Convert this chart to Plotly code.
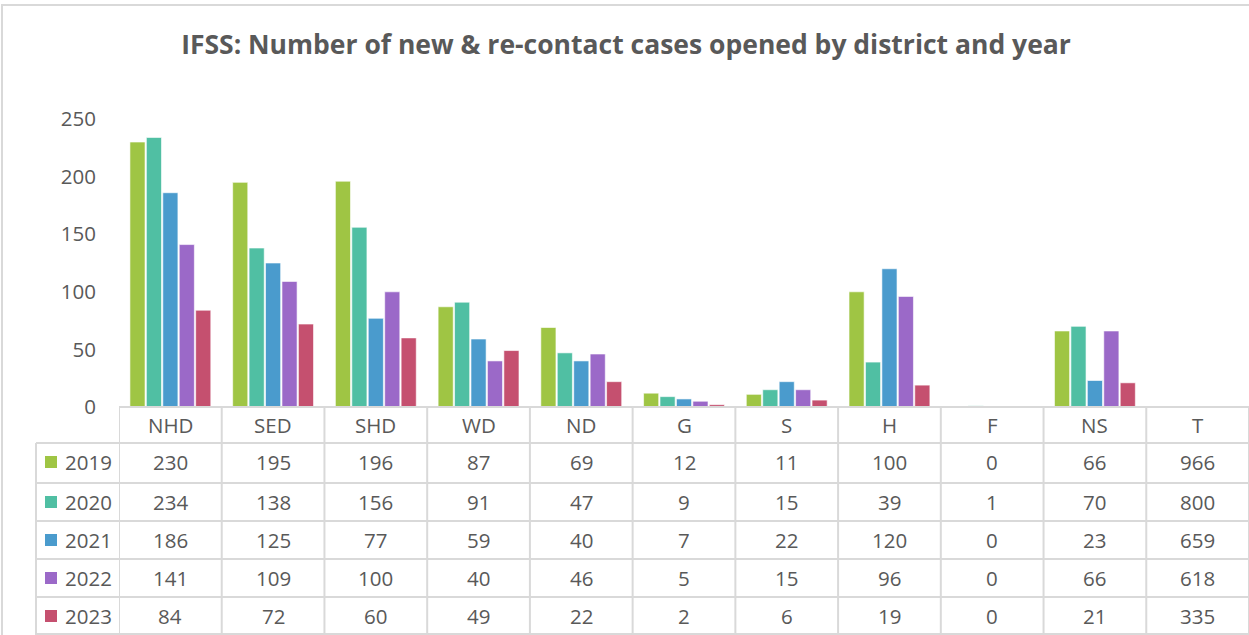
import plotly.graph_objects as go

categories = ["NHD", "SED", "SHD", "WD", "ND", "G", "S", "H", "F", "NS", "T"]
years = ["2019", "2020", "2021", "2022", "2023"]
v2019 = [230, 195, 196, 87, 69, 12, 11, 100, 0, 66, 966]
v2020 = [234, 138, 156, 91, 47, 9, 15, 39, 1, 70, 800]
v2021 = [186, 125, 77, 59, 40, 7, 22, 120, 0, 23, 659]
v2022 = [141, 109, 100, 40, 46, 5, 15, 96, 0, 66, 618]
v2023 = [84, 72, 60, 49, 22, 2, 6, 19, 0, 21, 335]
series = [v2019, v2020, v2021, v2022, v2023]
colors = ["#9FC544", "#50BFA3", "#4A9BCD", "#9B69C8", "#C5506F"]
y_ticks = [0, 50, 100, 150, 200, 250]

W, H = 1249, 635
TXT = "#595959"
GRID = "#D9D9D9"
FONT = "Open Sans"
FS = 20.5

def py(p):
    return (H - p) / H

fig = go.Figure()
for yr, vals, col in zip(years, series, colors):
    # the "T" (total) column is shown only in the data table
    plot_vals = [v if c != "T" else None for c, v in zip(categories, vals)]
    fig.add_trace(go.Bar(x=categories, y=plot_vals, name=yr,
                         marker=dict(color=col, line=dict(color="rgba(255,255,255,0.6)", width=1)),
                         showlegend=False, hoverinfo="x+y+name"))

plot_top, plot_bot = 119, 407
shapes = []
annotations = []

shapes.append(dict(type="rect", xref="paper", yref="paper", x0=2/W, x1=1.01, y0=-0.01, y1=py(5),
                   line=dict(color=GRID, width=2), layer="below"))

row_tops = [443, 483, 521, 559, 597]
row_h = 38
left_x = 36
for rt in row_tops:
    shapes.append(dict(type="line", xref="paper", yref="paper", x0=left_x/W, x1=1, y0=py(rt), y1=py(rt),
                       line=dict(color=GRID, width=2)))
shapes.append(dict(type="line", xref="paper", yref="paper", x0=left_x/W, x1=1, y0=py(634), y1=py(634),
                   line=dict(color=GRID, width=2)))
shapes.append(dict(type="line", xref="x", yref="paper", x0=-0.5, x1=10.5, y0=py(plot_bot), y1=py(plot_bot),
                   line=dict(color=GRID, width=2)))
for i in range(len(categories) + 1):
    shapes.append(dict(type="line", xref="x", yref="paper", x0=i - 0.5, x1=i - 0.5,
                       y0=py(plot_bot), y1=0, line=dict(color=GRID, width=2)))
shapes.append(dict(type="line", xref="paper", yref="paper", x0=left_x/W, x1=left_x/W,
                   y0=py(row_tops[0]), y1=0, line=dict(color=GRID, width=2)))

for c in categories:
    annotations.append(dict(x=c, xref="x", y=py((plot_bot + row_tops[0]) / 2), yref="paper",
                            text=c, showarrow=False, font=dict(family=FONT, size=FS, color=TXT),
                            xanchor="center", yanchor="middle"))
for r, (yr, vals, col) in enumerate(zip(years, series, colors)):
    ymid = row_tops[r] + row_h / 2
    shapes.append(dict(type="rect", xref="paper", yref="paper", x0=45/W, x1=57/W,
                       y0=py(ymid + 6), y1=py(ymid - 6), fillcolor=col, line=dict(width=0)))
    annotations.append(dict(x=63/W, xref="paper", y=py(ymid), yref="paper", text=yr, showarrow=False,
                            font=dict(family=FONT, size=FS, color=TXT), xanchor="left", yanchor="middle"))
    for c, v in zip(categories, vals):
        annotations.append(dict(x=c, xref="x", y=py(ymid), yref="paper", text=str(v), showarrow=False,
                                font=dict(family=FONT, size=FS, color=TXT), xanchor="center", yanchor="middle"))

fig.update_layout(
    width=W, height=H,
    margin=dict(l=0, r=0, t=0, b=0, autoexpand=False),
    paper_bgcolor="white", plot_bgcolor="white",
    title=dict(text="<b>IFSS: Number of new & re-contact cases opened by district and year</b>",
               x=626/W, xanchor="center", y=py(45), yanchor="middle",
               font=dict(family=FONT, size=26.5, color=TXT)),
    barmode="group", bargap=0.2, bargroupgap=0.08,
    xaxis=dict(domain=[119/W, 1], range=[-0.5, 10.5], type="category", showticklabels=False,
               showgrid=False, zeroline=False, showline=False, fixedrange=True, automargin=False),
    yaxis=dict(domain=[py(plot_bot), py(plot_top)], range=[0, 250], tickvals=y_ticks,
               showgrid=False, zeroline=False, showline=False, ticks="", automargin=False,
               ticklabelstandoff=22, tickfont=dict(family=FONT, size=FS, color=TXT)),
    shapes=shapes, annotations=annotations,
)

fig.write_html("out.html", config={"displayModeBar": False},
               post_script="document.body.style.margin='0';document.body.style.overflow='hidden';")
